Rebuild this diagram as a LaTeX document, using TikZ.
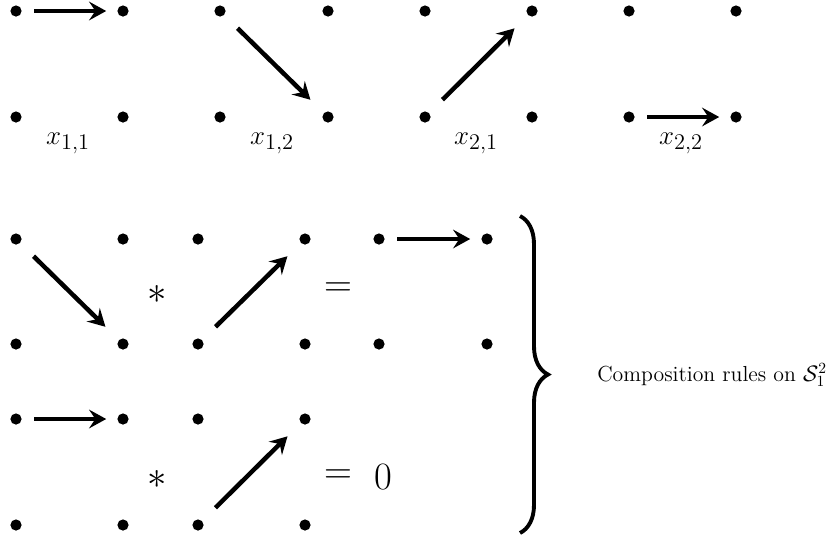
\documentclass[tikz,border=0pt]{standalone}
\usetikzlibrary{arrows.meta,decorations.pathreplacing}
\begin{document}
\begin{tikzpicture}[x=0.643pt,y=-0.643pt,
  dot/.style={circle,fill=black,inner sep=0pt,minimum size=7.2pt},
  arr/.style={line width=2.9pt,-{Stealth[length=11pt,width=12pt,inset=4pt]}},
  harr/.style={arr,shorten <=8pt,shorten >=7pt},
  darr/.style={arr,shorten <=12pt,shorten >=12pt},
  lab/.style={font=\fontsize{19}{23}\selectfont,inner sep=0pt},
  op/.style={font=\Huge,inner sep=0pt},
  bracestyle/.style={line width=2.5pt,decorate,decoration={brace,amplitude=18pt}}]
\useasboundingbox (0,0) rectangle (835,540);
% top row
\node[dot] (t11) at (16,11) {};  \node[dot] (t12) at (123,11) {};
\node[dot] (t13) at (16,117) {}; \node[dot] (t14) at (123,117) {};
\node[dot] (t21) at (220,11) {};  \node[dot] (t22) at (328,11) {};
\node[dot] (t23) at (220,117) {}; \node[dot] (t24) at (328,117) {};
\node[dot] (t31) at (425,11) {};  \node[dot] (t32) at (532,11) {};
\node[dot] (t33) at (425,117) {}; \node[dot] (t34) at (532,117) {};
\node[dot] (t41) at (629,11) {};  \node[dot] (t42) at (736,11) {};
\node[dot] (t43) at (629,117) {}; \node[dot] (t44) at (736,117) {};
\draw[harr] (t11) -- (t12);
\draw[darr] (t21) -- (t24);
\draw[darr] (t33) -- (t32);
\draw[harr] (t43) -- (t44);
\node[lab] (l1) at (68,143) {$x_{1,1}$};
\node[lab] (l2) at (272,143) {$x_{1,2}$};
\node[lab] (l3) at (476,143) {$x_{2,1}$};
\node[lab] (l4) at (681,143) {$x_{2,2}$};
% middle row
\node[dot] (m11) at (16,239) {};  \node[dot] (m12) at (123,239) {};
\node[dot] (m13) at (16,344) {};  \node[dot] (m14) at (123,344) {};
\node[dot] (m21) at (198,239) {}; \node[dot] (m22) at (305,239) {};
\node[dot] (m23) at (198,344) {}; \node[dot] (m24) at (305,344) {};
\node[dot] (m31) at (379,239) {}; \node[dot] (m32) at (487,239) {};
\node[dot] (m33) at (379,344) {}; \node[dot] (m34) at (487,344) {};
\draw[darr] (m11) -- (m14);
\draw[darr] (m23) -- (m22);
\draw[harr] (m31) -- (m32);
\node[op] (s1) at (157,294) {$*$};
\node[op] (e1) at (338,290) {$=$};
% bottom row
\node[dot] (b11) at (16,419) {};  \node[dot] (b12) at (123,419) {};
\node[dot] (b13) at (16,525) {};  \node[dot] (b14) at (123,525) {};
\node[dot] (b21) at (198,419) {}; \node[dot] (b22) at (305,419) {};
\node[dot] (b23) at (198,525) {}; \node[dot] (b24) at (305,525) {};
\draw[harr] (b11) -- (b12);
\draw[darr] (b23) -- (b22);
\node[op] (s2) at (157,479) {$*$};
\node[op] (e2) at (338,477) {$=$};
\node[op] (z) at (383,477) {$0$};
% brace
\coordinate (bt) at (520,216);
\coordinate (bb) at (520,533);
\draw[bracestyle] (bt) -- (bb);
\node[anchor=west,inner sep=0pt,font=\fontsize{14}{17}\selectfont] (comp) at (597,375) {Composition rules on $\mathcal{S}_1^2$};
\end{tikzpicture}
\end{document}
